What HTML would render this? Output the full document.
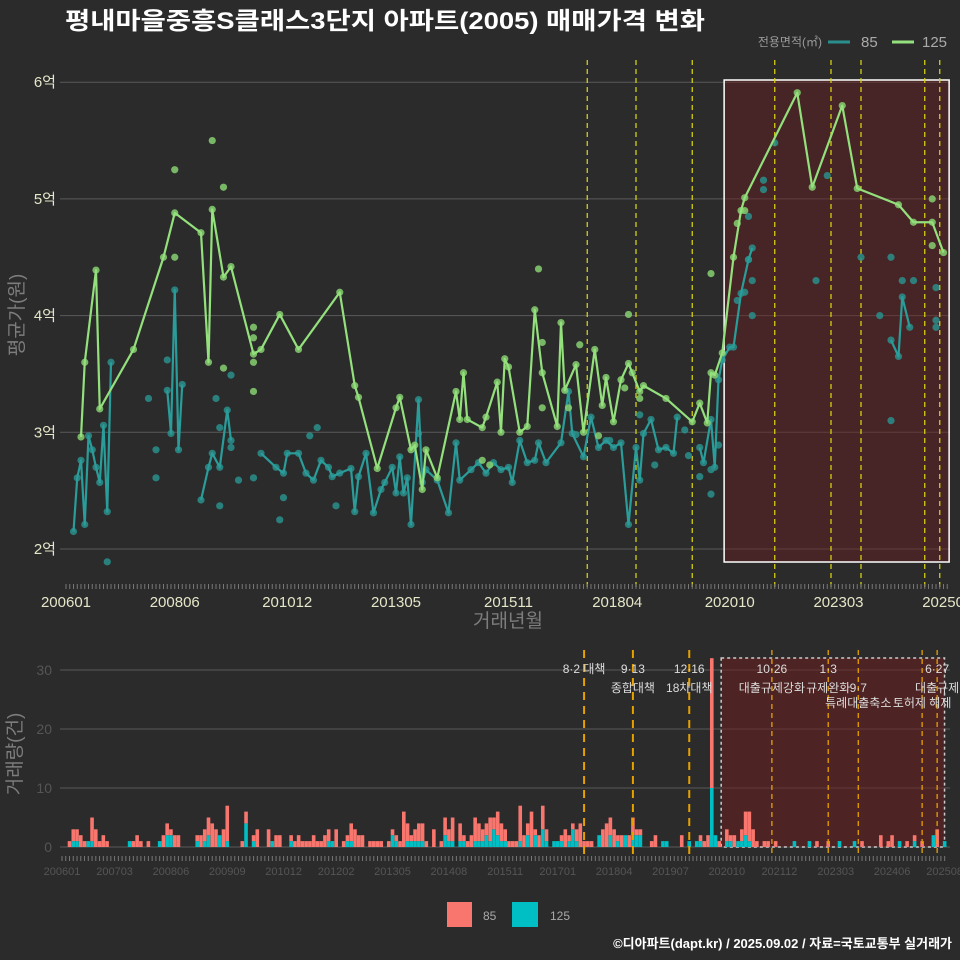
<!DOCTYPE html>
<html><head><meta charset="utf-8">
<style>
html,body{margin:0;padding:0;background:#2b2b2c;}
svg{display:block;font-family:"Liberation Sans","Noto Sans CJK KR",sans-serif;}
</style></head>
<body>
<svg id="chart" width="960" height="960" viewBox="0 0 960 960" xmlns="http://www.w3.org/2000/svg">
<rect x="0" y="0" width="960" height="960" fill="#2b2b2c"/>
<text x="65" y="29" fill="#ffffff" font-size="24" font-weight="bold" textLength="640" lengthAdjust="spacingAndGlyphs">평내마을중흥S클래스3단지 아파트(2005) 매매가격 변화</text>
<g>
<text x="822" y="46" fill="#9a9a9a" font-size="12" text-anchor="end">전용면적(㎡)</text>
<line x1="828" y1="42" x2="850" y2="42" stroke="#2a8f8c" stroke-width="3"/>
<text x="861" y="47" fill="#aaaaaa" font-size="15">85</text>
<line x1="892" y1="42" x2="914" y2="42" stroke="#93e07c" stroke-width="3"/>
<text x="922" y="47" fill="#aaaaaa" font-size="15">125</text>
</g>
<g id="topPanel"></g>
<g id="botPanel"></g>
<text transform="translate(23,315) rotate(-90)" fill="#7d7d7d" font-size="19" text-anchor="middle">평균가(원)</text>
<text x="508" y="627" fill="#7d7d7d" font-size="19" text-anchor="middle">거래년월</text>
<text transform="translate(21,754) rotate(-90)" fill="#7d7d7d" font-size="19" text-anchor="middle">거래량(건)</text>
<g>
<rect x="447" y="902" width="25" height="25" fill="#f8766d"/>
<text x="483" y="920" fill="#aaaaaa" font-size="12">85</text>
<rect x="512" y="902" width="26" height="25" fill="#00bfc4"/>
<text x="550" y="920" fill="#aaaaaa" font-size="12">125</text>
</g>
<text x="952" y="948" fill="#ffffff" font-size="13" font-weight="bold" text-anchor="end">©디아파트(dapt.kr) / 2025.09.02 / 자료=국토교통부 실거래가</text>
</svg>
<script>
// ---- data ----
const topTickMonths = [0,29,59,88,118,147,177,206,235];
const topTickLabels = ['200601','200806','201012','201305','201511','201804','202010','202303','202508'];
const priceTicks = [2,3,4,5,6];
const priceTickLabels = ['2억','3억','4억','5억','6억'];
const line125Months = [4,5,8,9,18,26,29,36,38,39,42,44,50,52,57,62,73,77,78,83,88,89,92,93,95,96,99,104,105,106,107,111,112,115,116,117,118,121,123,125,127,131,132,133,136,138,141,143,144,146,148,150,151,153,154,160,167,169,171,172,173,175,178,180,181,195,199,207,211,222,226,231,234];
const line125Prices = [2.96,3.60,4.39,3.20,3.71,4.50,4.88,4.71,3.60,4.91,4.33,4.42,3.67,3.71,4.01,3.71,4.20,3.40,3.30,2.69,3.21,3.30,2.85,2.89,2.51,2.85,2.61,3.35,3.11,3.51,3.11,3.04,3.13,3.43,3.00,3.63,3.56,3.00,3.05,4.05,3.51,3.05,3.94,3.36,3.58,3.00,3.71,3.23,3.47,3.09,3.45,3.59,3.51,3.35,3.40,3.29,3.09,3.25,3.08,3.51,3.49,3.68,4.50,4.90,5.01,5.91,5.10,5.80,5.09,4.95,4.80,4.80,4.54];
const extra125Months = [29,39,42,29,50,50,50,50,42,126,150,172,137,127,127,231,231,179,181,149,153,134,111,113,142];
const extra125Prices = [5.25,5.50,5.10,4.50,3.90,3.81,3.60,3.35,3.55,4.40,4.01,4.36,3.75,3.77,3.21,5.00,4.60,4.79,4.90,3.38,3.29,3.21,2.76,2.72,2.97];
const line85Months = [2,3,4,5,6,7,8,9,10,11,12,27,28,29,30,31,36,38,39,41,43,44,52,56,58,59,62,64,66,68,70,71,73,76,77,78,80,82,84,85,87,88,89,90,91,92,94,95,96,99,102,104,105,108,110,112,114,116,118,119,121,123,125,126,128,132,134,135,138,140,142,144,146,148,150,152,153,154,156,158,160,162,163,169,170,172,173,174,175,177,178,180,182,183,220,222,223,225];
const line85Prices = [2.15,2.61,2.76,2.21,2.97,2.85,2.70,2.57,3.06,2.32,3.60,3.36,2.99,4.22,2.85,3.41,2.42,2.70,2.82,2.70,3.19,2.93,2.82,2.70,2.65,2.82,2.82,2.65,2.59,2.76,2.70,2.62,2.65,2.69,2.32,2.62,2.82,2.31,2.51,2.57,2.70,2.48,2.79,2.48,2.61,2.21,3.28,2.57,2.68,2.59,2.31,2.91,2.59,2.68,2.74,2.65,2.74,2.68,2.70,2.57,2.93,2.74,2.76,2.91,2.74,2.91,3.35,2.99,2.79,3.13,2.87,2.93,2.87,2.91,2.21,2.87,2.59,2.99,3.11,2.85,2.87,2.82,3.13,2.87,2.74,3.11,2.70,3.45,3.62,3.73,3.73,4.19,4.48,4.58,3.79,3.65,4.16,3.90];
const extra85Months = [11,22,24,24,27,44,44,40,41,50,46,58,41,57,67,65,72,94,136,145,153,157,165,166,189,186,186,182,182,183,183,181,179,203,200,212,220,223,226,217,220,232,232,232,172,174,169,172];
const extra85Prices = [1.89,3.29,2.61,2.85,3.62,2.87,3.49,3.29,3.04,2.61,2.59,2.44,2.37,2.25,3.04,2.97,2.37,2.99,2.98,2.93,3.15,2.72,3.02,2.80,5.48,5.16,5.08,4.85,4.48,4.30,4.00,4.20,4.13,5.20,4.30,4.50,4.50,4.30,4.30,4.00,3.10,4.24,3.96,3.90,2.68,2.89,2.62,2.47];
const eventMonths = [139,152,167,189,204,212,229,233];
const shadeStartMonth = 175.5, shadeEndMonth = 235.5;
const botTickMonths = [0,14,29,44,59,73,88,103,118,132,147,162,177,191,206,221,235];
const botTickLabels = ['200601','200703','200806','200909','201012','201202','201305','201408','201511','201701','201804','201907','202010','202112','202303','202406','202508'];
const countTicks = [0,10,20,30];
const barMonths = [2,3,4,5,6,7,8,9,10,11,12,18,19,20,21,23,26,27,28,29,30,31,36,37,38,39,40,41,42,43,44,48,49,51,52,55,56,57,58,61,62,63,64,65,66,67,68,69,70,71,72,73,75,76,77,78,79,80,82,83,84,85,87,88,89,90,91,92,93,94,95,96,97,99,101,102,103,104,106,107,108,109,110,111,112,113,114,115,116,117,118,119,120,121,122,123,124,125,126,127,128,129,131,132,133,134,135,136,137,138,139,140,141,143,144,145,146,147,148,149,150,151,152,153,154,157,158,160,161,165,167,169,170,171,172,173,174,175,177,178,179,180,181,182,183,184,185,187,188,190,195,199,201,204,207,211,213,218,220,221,223,225,227,229,232,233,235];
const count85 = [1,2,2,2,1,0,4,3,1,2,1,0,1,2,1,1,0,2,2,1,2,2,1,2,2,3,4,3,0,3,6,1,2,1,3,3,0,2,2,1,1,2,1,1,1,2,1,1,2,2,0,3,1,1,3,3,2,2,1,1,1,1,1,1,1,1,6,3,1,2,3,3,1,3,1,3,2,4,3,1,1,2,4,3,2,2,4,2,4,3,2,1,1,1,6,2,2,6,1,2,4,2,0,0,1,3,1,1,2,4,1,1,1,0,3,4,3,3,1,2,0,2,3,1,1,1,2,0,0,2,0,0,1,1,2,22,0,1,2,1,2,0,2,4,5,3,1,1,1,1,0,0,1,1,0,0,1,2,1,2,0,1,1,1,0,3,0];
const count125 = [0,1,1,0,0,1,1,0,0,0,0,1,0,0,0,0,1,0,2,2,0,0,1,0,1,2,0,0,2,0,1,0,4,1,0,0,1,0,0,1,0,0,0,0,0,0,0,0,0,1,1,0,0,1,1,0,0,0,0,0,0,0,0,2,1,0,0,1,1,1,1,1,0,0,0,2,1,1,1,1,0,0,1,1,1,2,1,3,2,1,1,0,0,0,1,0,2,0,2,0,3,1,1,1,1,0,1,3,1,0,0,0,0,2,0,0,2,0,1,0,2,0,2,2,2,0,0,1,1,0,1,1,1,0,0,10,2,0,1,1,0,1,1,2,1,0,0,0,0,0,1,1,0,0,1,1,0,0,0,0,1,0,1,0,2,0,1];
const eventLine1 = ['8·2 대책','9·13','12·16','10·26','1·3','','','6·27'];
const eventLine2 = ['','종합대책','18차대책','대출규제강화','규제완화','9·7','','대출규제'];
const eventLine3 = ['','','','','','특례대출축소','토허제 해제',''];

// ---- scales ----
const xT = m => 66 + 3.75*m;
const yT = p => 549 - (p-2)*116.7;
const xB = m => 62 + 3.756*m;
const yB = c => 847 - c*5.9;
const NS = 'http://www.w3.org/2000/svg';
function mk(parent, tag, attrs){const e=document.createElementNS(NS,tag);for(const k in attrs)e.setAttribute(k,attrs[k]);parent.appendChild(e);return e;}
const topG = document.getElementById('topPanel');
const botG = document.getElementById('botPanel');

// ---- top panel ----
priceTicks.forEach((p,i)=>{
  const g = mk(topG,'line',{x1:60,x2:950,y1:yT(p),y2:yT(p),stroke:'#5a5a5a','stroke-width':1});
  
  
  const t = mk(topG,'text',{x:56,y:yT(p)+5,fill:'#e6e6c8','font-size':15,'text-anchor':'end'});
  t.textContent = priceTickLabels[i];
  
  
});
const shadeT = mk(topG,'rect',{x:xT(shadeStartMonth),y:80,width:xT(shadeEndMonth)-xT(shadeStartMonth),height:482,fill:'#6a1e1e','fill-opacity':0.45,stroke:'#ffffff','stroke-width':1.5});


eventMonths.forEach(m=>{
  const l = mk(topG,'line',{x1:xT(m),x2:xT(m),y1:60,y2:590,stroke:'#d4cf10','stroke-width':1.3,'stroke-dasharray':'5,4'});
  
  
});
for(let m=0;m<=235;m++){
  const tk = mk(topG,'line',{x1:xT(m),x2:xT(m),y1:584,y2:589,stroke:'#777','stroke-width':1});
  
  
}
topTickMonths.forEach((m,i)=>{
  const t = mk(topG,'text',{x:xT(m),y:607,fill:'#e6e6c8','font-size':15,'text-anchor':'middle'});
  t.textContent = topTickLabels[i];
  
  
});
function drawSeries(months, prices, color, name, gap){
  const segs=[[]];
  months.forEach((m,i)=>{
    const cur=segs[segs.length-1];
    if(cur.length && m-months[i-1]>gap) segs.push([]);
    segs[segs.length-1].push([xT(m),yT(prices[i])]);
  });
  segs.forEach(s=>{
    if(s.length<2) return;
    const pl = mk(topG,'polyline',{points:s.map(p=>p.join(',')).join(' '),fill:'none',stroke:color,'stroke-width':2.2,'stroke-linejoin':'round'});
    
    
  });
}
function drawDots(months, prices, color, name){
  months.forEach((m,i)=>{
    if(prices[i]===undefined) return;
    const c = mk(topG,'circle',{cx:xT(m),cy:yT(prices[i]),r:3.6,fill:color,'fill-opacity':0.85});
    
    
  });
}
drawDots(extra85Months, extra85Prices, '#2a8f8c','size-85');
drawDots(line85Months, line85Prices, '#2a8f8c','size-85');
drawSeries(line85Months, line85Prices, '#2a9d9a','size-85', 4);
drawDots(extra125Months, extra125Prices, '#86d070','size-125');
drawDots(line125Months, line125Prices, '#86d070','size-125');
drawSeries(line125Months, line125Prices, '#93e07c','size-125', 1000);

// ---- bottom panel ----
countTicks.forEach(c=>{
  const g = mk(botG,'line',{x1:60,x2:950,y1:yB(c),y2:yB(c),stroke:'#5a5a5a','stroke-width':1});
  
  
  const t = mk(botG,'text',{x:52,y:yB(c)+5,fill:'#555','font-size':14,'text-anchor':'end'});
  t.textContent = c;
  
  
});
const shadeB = mk(botG,'rect',{x:xB(shadeStartMonth),y:658,width:xB(shadeEndMonth)-xB(shadeStartMonth)-2,height:189,fill:'#6a1e1e','fill-opacity':0.55,stroke:'#cccccc','stroke-width':1.5,'stroke-dasharray':'3,3'});


barMonths.forEach((m,i)=>{
  const x = xB(m)-1.8, w = 3.6;
  const c125 = count125[i]||0, c85 = count85[i]||0;
  if(c125>0){
    const r = mk(botG,'rect',{x:x,y:yB(c125),width:w,height:c125*5.9,fill:'#00bfc4'});
    
    
  }
  if(c85>0){
    const r = mk(botG,'rect',{x:x,y:yB(c125+c85),width:w,height:c85*5.9,fill:'#f8766d'});
    
    
  }
});
eventMonths.forEach((m,i)=>{
  const inside = m>shadeStartMonth;
  const l = mk(botG,'line',{x1:xB(m),x2:xB(m),y1:650,y2:857,stroke:'#e8a000','stroke-width':inside?1.3:2,'stroke-dasharray':inside?'5,4':'8,6'});
  
  
  [[eventLine1[i],673],[eventLine2[i],692],[eventLine3[i],707]].forEach(([txt,y])=>{
    if(!txt) return;
    const t = mk(botG,'text',{x:xB(m),y:y,fill:'#dddddd','font-size':12,'text-anchor':'middle'});
    t.textContent = txt;
    
    
  });
});
for(let m=0;m<=235;m++){
  const tk = mk(botG,'line',{x1:xB(m),x2:xB(m),y1:856,y2:861,stroke:'#777','stroke-width':1});
  
  
}
botTickMonths.forEach((m,i)=>{
  const t = mk(botG,'text',{x:xB(m),y:875,fill:'#555','font-size':11,'text-anchor':'middle'});
  t.textContent = botTickLabels[i];
  
  
});
</script>
</body></html>
